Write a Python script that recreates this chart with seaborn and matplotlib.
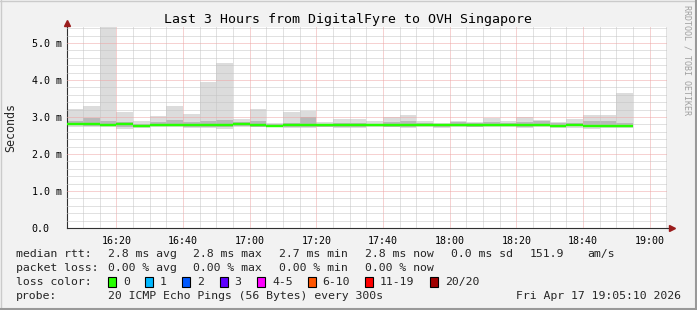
import matplotlib
matplotlib.use("Agg")
import matplotlib.pyplot as plt
import matplotlib.dates as mdates
from matplotlib.lines import Line2D
from matplotlib.patches import Rectangle
import numpy as np
import pandas as pd
import seaborn as sns

# ---------------- data ----------------
title = "Last 3 Hours from DigitalFyre to OVH Singapore"
day = "2026-04-17"
window_start = "16:05:10"
window_end = "19:05:10"
slot_minutes = 5
slot_start = pd.date_range(f"{day} 16:05", periods=34, freq="5min")

# smoke (ms) per 5-minute slot
rtt_max = [3.22, 3.30, 5.42, 3.14, 2.89, 3.02, 3.30, 3.08, 3.95, 4.47, 2.95, 3.22,
           2.85, 3.14, 3.16, 2.86, 2.95, 2.95, 2.89, 2.99, 3.06, 2.89, 2.83, 2.89,
           2.87, 2.98, 2.89, 2.99, 2.93, 2.86, 2.95, 3.05, 3.05, 3.66]
rtt_hi = [2.89, 2.98, 2.89, 2.86, 2.82, 2.86, 2.93, 2.86, 2.89, 2.92, 2.86, 2.88,
          2.80, 2.85, 3.00, 2.82, 2.84, 2.84, 2.82, 2.86, 2.90, 2.85, 2.81, 2.86,
          2.85, 2.87, 2.84, 2.86, 2.88, 2.83, 2.85, 2.88, 2.88, 2.84]
rtt_median = [2.82, 2.80, 2.78, 2.81, 2.76, 2.78, 2.78, 2.77, 2.78, 2.77, 2.80, 2.77,
              2.76, 2.78, 2.78, 2.77, 2.77, 2.77, 2.78, 2.77, 2.77, 2.78, 2.77, 2.78,
              2.77, 2.79, 2.79, 2.78, 2.78, 2.75, 2.78, 2.75, 2.76, 2.76]
rtt_lo = [2.77, 2.76, 2.75, 2.74, 2.73, 2.75, 2.75, 2.73, 2.73, 2.72, 2.76, 2.74,
          2.74, 2.74, 2.74, 2.74, 2.74, 2.74, 2.75, 2.74, 2.73, 2.75, 2.74, 2.75,
          2.74, 2.75, 2.75, 2.74, 2.75, 2.72, 2.75, 2.72, 2.73, 2.73]
rtt_min = [2.74, 2.73, 2.74, 2.68, 2.71, 2.73, 2.72, 2.71, 2.69, 2.67, 2.73, 2.72,
           2.72, 2.70, 2.70, 2.72, 2.70, 2.71, 2.73, 2.72, 2.71, 2.72, 2.71, 2.73,
           2.72, 2.73, 2.72, 2.70, 2.72, 2.71, 2.70, 2.68, 2.71, 2.70]

y_ticks = [0, 1, 2, 3, 4, 5]
y_tick_labels = ["0.0", "1.0 m", "2.0 m", "3.0 m", "4.0 m", "5.0 m"]
y_top = 5.43
x_tick_labels = ["16:20", "16:40", "17:00", "17:20", "17:40", "18:00", "18:20", "18:40", "19:00"]

median_row = ["median rtt:", "2.8 ms avg", "2.8 ms max", "2.7 ms min", "2.8 ms now", "0.0 ms sd", "151.9", "am/s"]
loss_row = ["packet loss:", "0.00 % avg", "0.00 % max", "0.00 % min", "0.00 % now"]
loss_labels = ["0", "1", "2", "3", "4-5", "6-10", "11-19", "20/20"]
loss_colors = ["#26ff00", "#00b8ff", "#0059ff", "#5e00ff", "#ff00ff", "#ff5500", "#ff0000", "#a00000"]
probe_label = "probe:"
probe_text = "20 ICMP Echo Pings (56 Bytes) every 300s"
stamp = "Fri Apr 17 19:05:10 2026"
watermark = "RRDTOOL / TOBI OETIKER"

# ---------------- style ----------------
sns.set_style("white")
plt.rcParams["font.family"] = ["DejaVu Sans Mono"]

W, H = 697, 310
BG = "#f2f2f2"
fig = plt.figure(figsize=(W / 100, H / 100), dpi=100, facecolor=BG)

def fx(px):
    return px / W

def fy(py):
    return 1 - py / H

ax = fig.add_axes([fx(67), fy(228), 600 / W, 201 / H])
ax.set_facecolor("white")

x0 = mdates.date2num(slot_start)
width = slot_minutes / 1440.0
rmax = np.array(rtt_max); rmin = np.array(rtt_min)
rhi = np.array(rtt_hi); rlo = np.array(rtt_lo)

ax.bar(x0, rmax - rmin, bottom=rmin, width=width, align="edge", color="#dcdcdc", lw=0, zorder=1)
ax.bar(x0, rhi - rlo, bottom=rlo, width=width, align="edge", color="#b9b9b9", lw=0, zorder=1.1)

# median line: one flat segment per slot
t_end = slot_start + pd.Timedelta(minutes=slot_minutes)
med_long = pd.DataFrame({
    "t": list(slot_start) + list(t_end),
    "rtt": rtt_median + rtt_median,
    "slot": list(range(len(slot_start))) * 2,
})
sns.lineplot(data=med_long, x="t", y="rtt", units="slot", estimator=None,
             color="#26ff00", lw=1.75, ax=ax, zorder=4, solid_capstyle="butt", legend=False)

xs = mdates.date2num(pd.Timestamp(f"{day} {window_start}"))
xe = mdates.date2num(pd.Timestamp(f"{day} {window_end}"))
ax.set_xlim(xs, xe)
ax.set_ylim(0, y_top)

# grids
minor_x = mdates.date2num(pd.date_range(f"{day} 16:10", f"{day} 19:05", freq="5min"))
major_x = mdates.date2num(pd.to_datetime([f"{day} {t}" for t in x_tick_labels]))
ax.set_xticks(major_x)
ax.set_xticklabels(x_tick_labels)
ax.set_xticks(minor_x, minor=True)
ax.set_yticks(y_ticks)
ax.set_yticklabels(y_tick_labels)
ax.set_yticks(np.arange(0.2, y_top, 0.2), minor=True)

ax.grid(which="minor", color="#c4c4c4", lw=0.72, ls=(0, (1, 1)))
ax.grid(which="major", color="#eea4a4", lw=0.72, ls=(0, (1, 1)))
ax.set_axisbelow(False)
for gl in ax.get_xgridlines() + ax.get_ygridlines():
    gl.set_zorder(2)
for gl in ax.xaxis.get_minorticklines():
    pass

ax.tick_params(axis="both", which="both", labelsize=7.2, colors="#000000")
ax.tick_params(axis="x", which="major", length=3, color="#eea4a4", pad=3)
ax.tick_params(axis="y", which="major", length=4, color="#eea4a4")
ax.tick_params(axis="both", which="minor", length=2.5, color="#c4c4c4")
ax.tick_params(axis="y", which="major", pad=34 * 0.72 - 3)
for lbl in ax.get_yticklabels():
    lbl.set_horizontalalignment("left")
ax.set_xlabel("")
ax.set_ylabel("")

for s in ["top", "right"]:
    ax.spines[s].set_visible(False)
ax.spines["left"].set_color("#303030")
ax.spines["bottom"].set_color("#303030")
ax.spines["left"].set_linewidth(0.8)
ax.spines["bottom"].set_linewidth(0.8)

# axis extensions with arrows
arrow_c = "#9a1c1c"
ax.plot([0, 0], [1, 1.01], transform=ax.transAxes, color="#303030", lw=0.8, clip_on=False)
ax.plot([1, 1.006], [0, 0], transform=ax.transAxes, color="#303030", lw=0.8, clip_on=False)
ax.plot([0], [(228 - 23.5) / 201], marker="^", ms=4.5, color=arrow_c, transform=ax.transAxes, clip_on=False, zorder=6)
ax.plot([(671.5 - 67) / 600], [0], marker=">", ms=4.5, color=arrow_c, transform=ax.transAxes, clip_on=False, zorder=6)

# texts
fig.text(fx(348), fy(20), title, ha="center", va="center", fontsize=9.5, color="black")
fig.text(fx(10.5), fy(127.5), "Seconds", rotation=90, ha="center", va="center", fontsize=8.4)
fig.text(fx(687.5), fy(60), watermark, rotation=270, ha="center", va="center", fontsize=6, color="#a0a0a0")

LFS = 8.25
row_y = [254, 268, 282, 296]
med_x = [16, 107.5, 193, 279, 365, 451, 530, 587]
for s, x in zip(median_row, med_x):
    fig.text(fx(x), fy(row_y[0]), s, ha="left", va="center", fontsize=LFS)
loss_x = [16, 107.5, 193, 279, 365]
for s, x in zip(loss_row, loss_x):
    fig.text(fx(x), fy(row_y[1]), s, ha="left", va="center", fontsize=LFS)
fig.text(fx(16), fy(row_y[2]), "loss color:", ha="left", va="center", fontsize=LFS)
box_x = [108, 145, 182, 219.5, 257, 307.5, 365, 430]
for lab, col, bx in zip(loss_labels, loss_colors, box_x):
    fig.patches.append(Rectangle((fx(bx), fy(row_y[2] + 5)), 8 / W, 10 / H, transform=fig.transFigure,
                                 facecolor=col, edgecolor="black", lw=0.8))
    fig.text(fx(bx + 15), fy(row_y[2]), lab, ha="left", va="center", fontsize=LFS)
fig.text(fx(16), fy(row_y[3]), probe_label, ha="left", va="center", fontsize=LFS)
fig.text(fx(107.5), fy(row_y[3]), probe_text, ha="left", va="center", fontsize=LFS)
fig.text(fx(681), fy(row_y[3]), stamp, ha="right", va="center", fontsize=LFS)

# frame
fig.lines.append(Line2D([0, 1], [fy(0.5), fy(0.5)], transform=fig.transFigure, color="#cbcbcb", lw=1))
fig.lines.append(Line2D([fx(0.5), fx(0.5)], [0, 1], transform=fig.transFigure, color="#cbcbcb", lw=1))
fig.lines.append(Line2D([0, 1], [fy(309), fy(309)], transform=fig.transFigure, color="#999999", lw=1.5))
fig.lines.append(Line2D([fx(696), fx(696)], [0, 1], transform=fig.transFigure, color="#999999", lw=1.5))

fig.savefig("out.png", dpi=100, facecolor=BG)
